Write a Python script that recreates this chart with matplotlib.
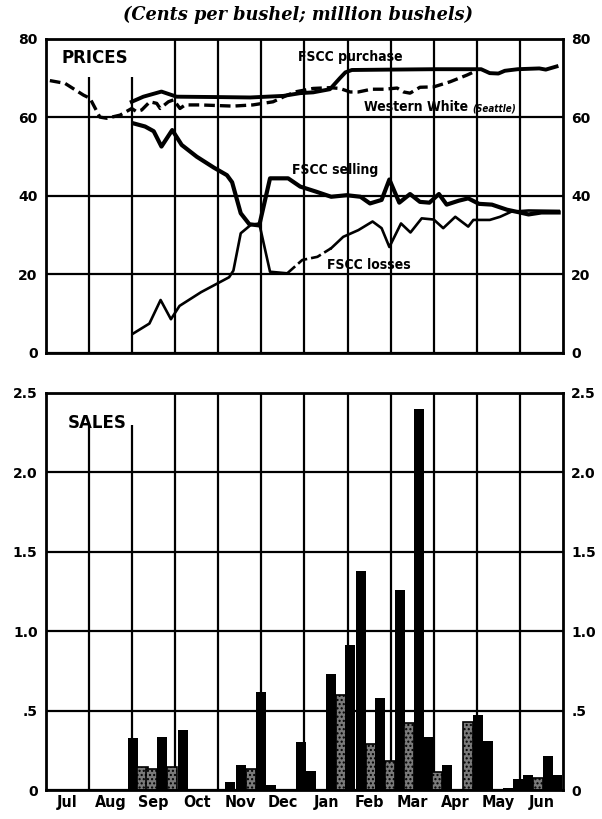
import matplotlib
matplotlib.use('Agg')
import matplotlib.pyplot as plt

# month labels, x axis runs in months from Jul 1
months = ['Jul', 'Aug', 'Sep', 'Oct', 'Nov', 'Dec', 'Jan', 'Feb', 'Mar', 'Apr', 'May', 'Jun']

# prices, cents per bushel
purchase_x = [1.99, 2.26, 2.68, 3.03, 4.0, 4.74, 5.51, 5.9, 6.2, 6.59, 6.82, 6.95, 7.1,
              8.0, 9.0, 10.1, 10.3, 10.5, 10.65, 10.95, 11.45, 11.6, 11.85]
purchase_y = [64.0, 65.3, 66.6, 65.3, 65.2, 65.1, 65.5, 66.2, 66.4, 67.2, 70.0, 71.5, 72.1,
              72.2, 72.3, 72.3, 71.3, 71.2, 71.9, 72.3, 72.5, 72.2, 73.0]

western_x = [0.09, 0.44, 0.87, 1.02, 1.25, 1.41, 1.72, 1.99, 2.1, 2.22, 2.41, 2.57, 2.65,
             2.84, 2.96, 3.11, 3.23, 3.57, 4.34, 4.8, 5.27, 5.6, 5.82, 6.2, 6.59, 6.82,
             7.06, 7.25, 7.55, 7.85, 8.15, 8.3, 8.45, 8.68, 9.0, 9.38, 9.77, 9.95]
western_y = [69.4, 68.7, 65.7, 64.9, 60.1, 59.8, 60.6, 62.3, 61.5, 61.9, 64.0, 63.6, 62.3,
             64.0, 64.5, 62.3, 63.2, 63.2, 62.9, 63.2, 64.0, 65.7, 66.6, 67.4, 67.6, 67.4,
             66.5, 66.5, 67.2, 67.2, 67.5, 66.5, 66.2, 67.7, 67.8, 69.1, 70.8, 71.7]

selling_x = [2.03, 2.3, 2.5, 2.68, 2.93, 3.15, 3.5, 3.9, 4.2, 4.32, 4.52, 4.72, 4.95, 5.2,
             5.62, 5.9, 6.27, 6.62, 6.98, 7.3, 7.52, 7.79, 7.97, 8.2, 8.45, 8.68, 8.9,
             9.12, 9.3, 9.58, 9.8, 10.05, 10.35, 10.7, 11.0, 11.2, 11.5, 11.9]
selling_y = [58.5, 57.7, 56.5, 52.6, 56.8, 53.0, 50.0, 47.2, 45.3, 43.5, 35.6, 32.8, 32.5,
             44.5, 44.5, 42.4, 41.1, 39.8, 40.2, 39.8, 38.1, 39.0, 44.2, 38.3, 40.5, 38.5,
             38.3, 40.5, 37.8, 38.8, 39.4, 38.0, 37.8, 36.5, 35.8, 35.3, 35.8, 35.8]

losses_x = [2.03, 2.4, 2.66, 2.9, 3.1, 3.6, 4.25, 4.35, 4.52, 4.75, 4.95, 5.2, 5.6, 5.95,
            6.3, 6.62, 6.9, 7.25, 7.58, 7.79, 7.97, 8.24, 8.46, 8.72, 9.0, 9.22, 9.5,
            9.8, 9.92, 10.3, 10.54, 10.8, 11.2, 11.9]
losses_y = [5.0, 7.5, 13.5, 8.6, 12.0, 15.5, 19.3, 21.0, 30.5, 32.6, 33.0, 20.7, 20.3, 23.7,
            24.5, 26.7, 29.6, 31.3, 33.5, 31.8, 27.0, 33.0, 30.7, 34.3, 34.0, 31.8, 34.7,
            32.2, 33.9, 33.9, 34.7, 36.0, 36.3, 36.2]
# the losses line is drawn broken between these two points (Jan)
losses_dash = (12, 15)

# weekly sales, million bushels; kind 'b' = solid, 's' = stippled
sales_x = [2.01, 2.24, 2.45, 2.69, 2.92, 3.17, 4.27, 4.52, 4.76, 4.99, 5.22, 5.92, 6.15,
           6.62, 6.84, 7.06, 7.31, 7.54, 7.75, 7.98, 8.22, 8.43, 8.66, 8.9, 9.07, 9.3,
           9.8, 10.03, 10.25, 10.73, 10.96, 11.19, 11.42, 11.65, 11.86]
sales_y = [0.33, 0.145, 0.135, 0.335, 0.145, 0.38, 0.05, 0.155, 0.135, 0.62, 0.03, 0.305,
           0.12, 0.73, 0.60, 0.91, 1.38, 0.29, 0.58, 0.18, 1.26, 0.42, 2.40, 0.335, 0.115,
           0.155, 0.43, 0.47, 0.31, 0.015, 0.07, 0.095, 0.075, 0.215, 0.095]
sales_kind = ['b', 's', 's', 'b', 's', 'b', 'b', 'b', 's', 'b', 'b', 'b', 'b',
              'b', 's', 'b', 'b', 's', 'b', 's', 'b', 's', 'b', 'b', 's', 'b',
              's', 'b', 'b', 'b', 'b', 'b', 's', 'b', 'b']

price_ticks = [0, 20, 40, 60, 80]
sales_ticks = [0, 0.5, 1.0, 1.5, 2.0, 2.5]
sales_ticklabels = ['0', '.5', '1.0', '1.5', '2.0', '2.5']

# condensed bold face for the chart labels
LABEL = dict(fontweight='bold', fontstretch='condensed', family='DejaVu Sans', va='center')


def setup_grid(ax, ymax, short_top):
    """Month grid with the first two lines cut short under the panel label."""
    ax.set_xlim(0, 12)
    ax.set_ylim(0, ymax)
    for k in range(1, 12):
        top = short_top if k <= 2 else ymax
        ax.vlines(k, 0, top, color='black', lw=1.6, zorder=1)
    for s in ax.spines.values():
        s.set_linewidth(2.0)
    ax.tick_params(length=0, labelsize=10, width=0)
    ax.tick_params(axis='y', labelleft=True, labelright=True, pad=6)
    for lab in ax.get_yticklabels():
        lab.set_fontweight('bold')


def plot_prices(ax):
    ax.set_yticks(price_ticks)
    ax.grid(axis='y', color='black', lw=1.6, zorder=1)
    ax.set_axisbelow(True)
    ax.set_xticks([])
    setup_grid(ax, 80, 70.3)

    ax.plot(purchase_x, purchase_y, color='black', lw=2.8, zorder=3)
    ax.plot(western_x, western_y, color='black', lw=2.4, ls=(0, (3.2, 1.5)), zorder=3)
    ax.plot(selling_x, selling_y, color='black', lw=3.0, zorder=3)

    a, b = losses_dash
    ax.plot(losses_x[:a + 1], losses_y[:a + 1], color='black', lw=1.9, zorder=3)
    ax.plot(losses_x[a:b + 1], losses_y[a:b + 1], color='black', lw=1.9,
            ls=(0, (4, 1.5)), zorder=3)
    ax.plot(losses_x[b:], losses_y[b:], color='black', lw=1.9, zorder=3)

    ax.text(0.37, 75.2, 'PRICES', fontsize=12, fontweight='bold', va='center')
    ax.text(5.85, 75.4, 'FSCC purchase', fontsize=10, **LABEL)
    ax.text(9.8, 62.6, 'Western White', fontsize=10, ha='right', **LABEL)
    ax.text(9.9, 62.4, '(Seattle)', fontsize=7, style='italic', **LABEL)
    ax.text(5.71, 46.5, 'FSCC selling', fontsize=10, **LABEL)
    ax.text(6.52, 22.4, 'FSCC losses', fontsize=10, **LABEL)


def plot_sales(ax):
    ax.set_yticks(sales_ticks)
    ax.set_yticklabels(sales_ticklabels)
    ax.grid(axis='y', color='black', lw=1.6, zorder=1)
    ax.set_axisbelow(True)
    ax.set_xticks([k + 0.5 for k in range(12)])
    ax.set_xticklabels(months)
    setup_grid(ax, 2.5, 2.3)
    for lab in ax.get_xticklabels():
        lab.set_fontweight('bold')
        lab.set_fontstretch('condensed')
        lab.set_fontsize(11.5)

    for x, y, kind in zip(sales_x, sales_y, sales_kind):
        if kind == 'b':
            ax.bar(x, y, width=0.235, color='black', zorder=2)
        else:
            ax.bar(x, y, width=0.235, facecolor='#7a7a7a', edgecolor='black',
                   hatch='....', lw=1.2, zorder=2)

    ax.text(0.5, 2.31, 'SALES', fontsize=12, fontweight='bold', va='center')


def main():
    fig = plt.figure(figsize=(6.02, 8.19), dpi=100)
    ax_p = fig.add_axes([0.0764, 0.569, 0.8588, 0.3834])
    ax_s = fig.add_axes([0.0764, 0.0354, 0.8588, 0.4848])

    plot_prices(ax_p)
    plot_sales(ax_s)

    fig.text(0.495, 0.982, '(Cents per bushel; million bushels)', ha='center', va='center',
             fontsize=12.8, fontweight='bold', style='italic', family='DejaVu Serif')

    fig.savefig('out.png', dpi=100)


if __name__ == "__main__":
    main()
